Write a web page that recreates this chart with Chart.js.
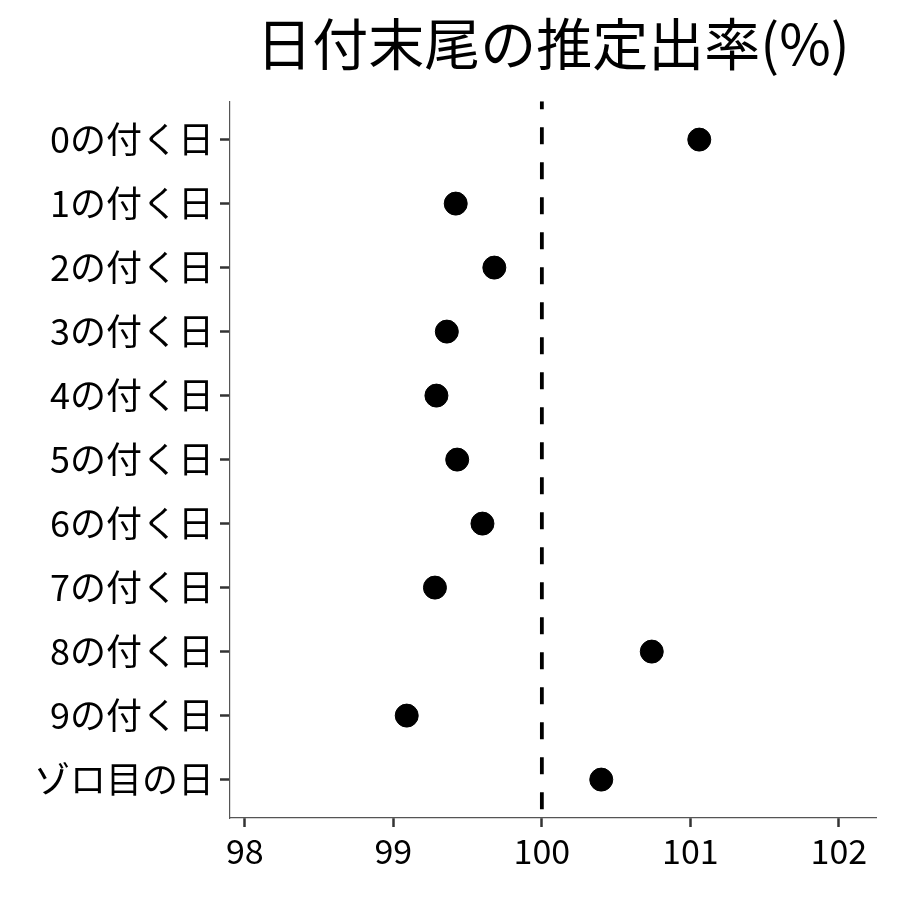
<!DOCTYPE html>
<html>
<head>
<meta charset="utf-8">
<script src="https://cdn.jsdelivr.net/npm/chart.js@4/dist/chart.umd.min.js"></script>
<style>
  html, body { margin: 0; padding: 0; background: #fff; }
  #wrap { width: 900px; height: 900px; }
</style>
</head>
<body>
<div id="wrap"><canvas id="chart" width="900" height="900"></canvas></div>
<script>
// データ
const categories = ["0の付く日", "1の付く日", "2の付く日", "3の付く日", "4の付く日",
  "5の付く日", "6の付く日", "7の付く日", "8の付く日", "9の付く日", "ゾロ目の日"];
const rates = [101.06, 99.42, 99.68, 99.36, 99.29, 99.43, 99.60, 99.28, 100.74, 99.09, 100.40];
const xTicks = [98, 99, 100, 101, 102];
const refValue = 100;

const FONT = "'Noto Sans CJK JP', 'Noto Sans', sans-serif";

new Chart(document.getElementById("chart"), {
  type: "scatter",
  data: {
    datasets: [
      {
        data: rates.map((v, i) => ({ x: v, y: i })),
        backgroundColor: "#000",
        borderColor: "#000",
        pointRadius: 11.5,
        pointHoverRadius: 11.5,
      },
      {
        type: "line",
        data: [{ x: refValue, y: -0.6 }, { x: refValue, y: categories.length - 0.4 }],
        borderColor: "#000",
        borderWidth: 3.8,
        borderDash: [17, 18],
        borderDashOffset: 9,
        pointRadius: 0,
        showLine: true,
        fill: false,
      },
    ],
  },
  options: {
    responsive: false,
    animation: false,
    layout: { padding: { left: 0, right: 24, top: 0, bottom: 0 } },
    plugins: {
      legend: { display: false },
      tooltip: { enabled: false },
      title: {
        display: true,
        fullSize: false,
        text: "日付末尾の推定出率(%)",
        color: "#000",
        font: { family: FONT, size: 56, weight: "normal" },
        padding: { top: 10, bottom: 24 },
      },
    },
    scales: {
      x: {
        type: "linear",
        min: 97.9,
        max: 102.25,
        afterBuildTicks: (scale) => { scale.ticks = xTicks.map((v) => ({ value: v })); },
        afterFit: (scale) => { scale.height = 82; },
        grid: { drawOnChartArea: false, drawTicks: true, tickLength: 9, tickColor: "#333", tickWidth: 2.5 },
        border: { display: true, color: "#555", width: 1.2 },
        ticks: { color: "#000", font: { family: FONT, size: 34 }, padding: 4, maxRotation: 0 },
      },
      y: {
        type: "linear",
        reverse: true,
        min: -0.6,
        max: categories.length - 0.4,
        afterBuildTicks: (scale) => { scale.ticks = categories.map((c, i) => ({ value: i })); },
        afterFit: (scale) => { scale.width = 230; },
        grid: { drawOnChartArea: false, drawTicks: true, tickLength: 10, tickColor: "#333", tickWidth: 2.5 },
        border: { display: true, color: "#555", width: 1.2 },
        ticks: {
          color: "#000",
          font: { family: FONT, size: 36 },
          padding: 6,
          callback: (v) => categories[v],
        },
      },
    },
  },
});
</script>
</body>
</html>
